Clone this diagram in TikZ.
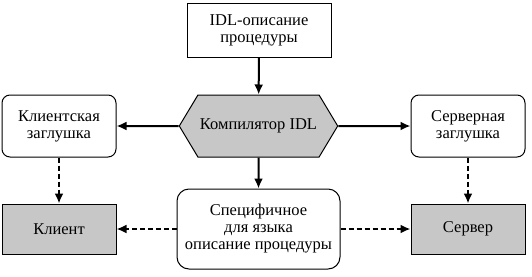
\documentclass[tikz,border=0pt]{standalone}
\usepackage{fontspec}
\setmainfont{Liberation Serif}
\usetikzlibrary{arrows.meta,shapes.symbols}

\tikzset{
  box/.style={draw, line width=1pt, fill=white, align=center, inner sep=2pt},
  stub/.style={box, rounded corners=8pt, minimum width=114pt, minimum height=62pt},
  prog/.style={box, fill=black!22, minimum width=114pt, minimum height=50pt},
  flow/.style={line width=2pt, -{Latex[length=10pt,width=9pt]}},
  gen/.style={flow, dash pattern=on 5pt off 3pt},
}

\begin{document}
\begin{tikzpicture}[x=1pt,y=-1pt,font=\rmfamily\fontsize{16.5}{17}\selectfont]
  \useasboundingbox (0,0) rectangle (532,276);

  % Исходное описание
  \node[box, minimum width=144pt, minimum height=54pt] (idl) at (259,30)
    {IDL-описание\\процедуры};

  % Компилятор
  \node[box, fill=black!22, shape=signal, signal to=west and east,
    signal pointer angle=118, minimum width=152pt, minimum height=62pt]
    (comp) at (258.5,126) {Компилятор IDL};

  % Заглушки
  \node[stub] (cstub) at (59,126) {Клиентская\\заглушка};
  \node[stub] (sstub) at (468,126) {Серверная\\заглушка};

  % Программы
  \node[prog] (client) at (59,229) {Клиент};
  \node[prog] (server) at (468,229) {Сервер};

  % Описание для языка
  \node[box, rounded corners=12pt, minimum width=163pt, minimum height=80pt]
    (spec) at (258.5,229) {Специфичное\\для языка\\описание процедуры};

  % Связи
  \draw[flow] (idl) -- (comp);
  \draw[flow] (comp) -- (cstub);
  \draw[flow] (comp) -- (sstub);
  \draw[flow] (comp) -- (spec);
  \draw[gen] (cstub) -- (client);
  \draw[gen] (sstub) -- (server);
  \draw[gen] (spec) -- (client);
  \draw[gen] (spec) -- (server);
\end{tikzpicture}
\end{document}
